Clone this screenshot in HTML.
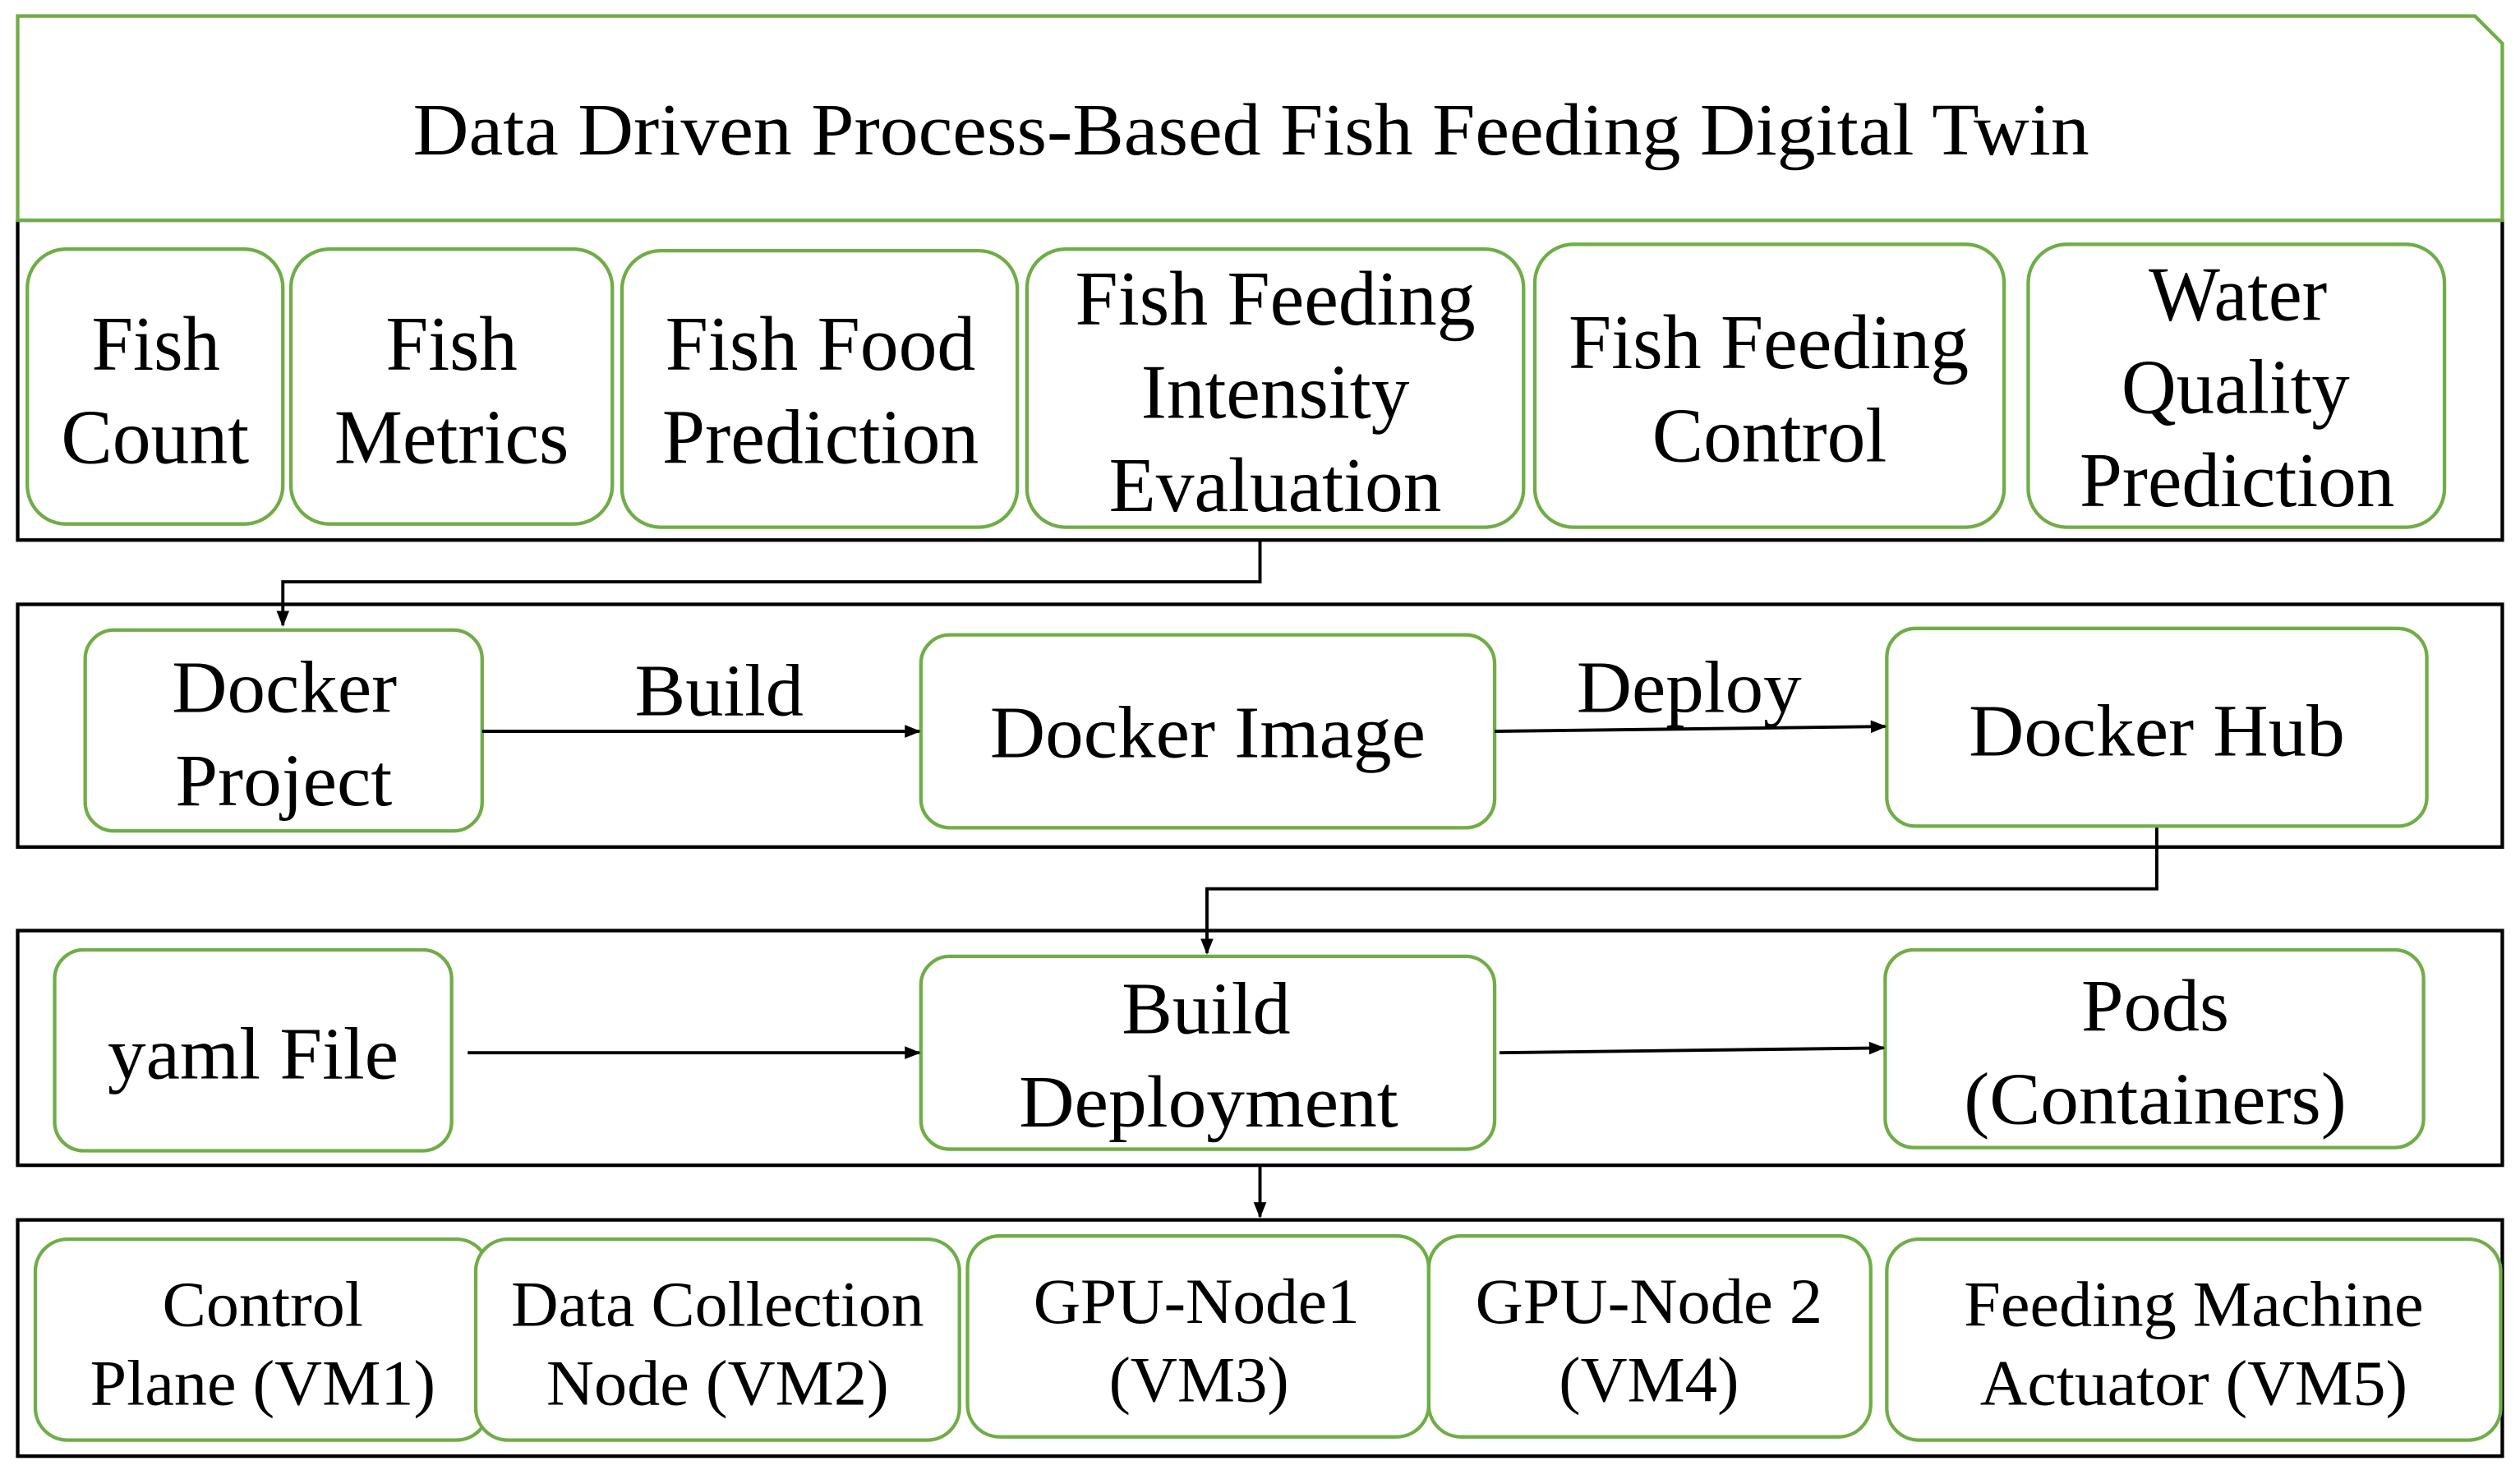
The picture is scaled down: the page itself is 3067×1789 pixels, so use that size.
<!DOCTYPE html>
<html><head><meta charset="utf-8"><style>html,body{margin:0;padding:0;background:#fff}svg{display:block}</style></head>
<body>
<svg width="3067" height="1789" viewBox="0 0 1568 914.6" xmlns="http://www.w3.org/2000/svg">
<defs><marker id="a" markerWidth="10" markerHeight="10" refX="9" refY="5" orient="auto" markerUnits="userSpaceOnUse"><path d="M0,1 L10,5 L0,9 Z" fill="#000"/></marker></defs>
<g fill="none" stroke="#000" stroke-width="2.2">
<rect x="11" y="137" width="1546" height="199"/>
<rect x="11" y="376" width="1546" height="151"/>
<rect x="11" y="579" width="1546" height="146"/>
<rect x="11" y="759" width="1546" height="147"/>
</g>
<g fill="#fff" stroke="#70ad47" stroke-width="2.2">
<path d="M11,10 L1540,10 L1557,27 L1557,137 L11,137 Z"/>
<rect x="17" y="155" width="159" height="171" rx="24"/>
<rect x="181" y="155" width="200" height="171" rx="24"/>
<rect x="387" y="156" width="246" height="172" rx="24"/>
<rect x="639" y="155" width="309" height="173" rx="24"/>
<rect x="955" y="152" width="292" height="176" rx="24"/>
<rect x="1262" y="152" width="259" height="176" rx="24"/>
<rect x="53" y="392" width="247" height="125" rx="18"/>
<rect x="573" y="395" width="357" height="120" rx="18"/>
<rect x="1174" y="391" width="336" height="123" rx="18"/>
<rect x="34" y="591" width="247" height="125" rx="18"/>
<rect x="573" y="595" width="357" height="120" rx="18"/>
<rect x="1173" y="591" width="335" height="123" rx="18"/>
<rect x="22" y="771" width="282" height="125" rx="20"/>
<rect x="296" y="771" width="301" height="125" rx="20"/>
<rect x="602" y="769" width="287" height="125" rx="20"/>
<rect x="889" y="769" width="275" height="125" rx="20"/>
<rect x="1174" y="771" width="382" height="125" rx="20"/>
</g>
<g fill="none" stroke="#000" stroke-width="2">
<path d="M784,336 L784,362 L176,362 L176,389" marker-end="url(#a)"/>
<path d="M300,455 L572,455" marker-end="url(#a)"/>
<path d="M930,455 L1173,452" marker-end="url(#a)"/>
<path d="M1342,515 L1342,553 L751,553 L751,593" marker-end="url(#a)"/>
<path d="M291,655 L572,655" marker-end="url(#a)"/>
<path d="M933,655 L1172,652" marker-end="url(#a)"/>
<path d="M784,725 L784,757" marker-end="url(#a)"/>
</g>
<g font-family="'Liberation Serif',serif" fill="#000" lengthAdjust="spacingAndGlyphs">
<text x="257" y="96" font-size="46" textLength="1043" lengthAdjust="spacingAndGlyphs">Data Driven Process-Based Fish Feeding Digital Twin</text>
<g font-size="48">
<text x="57" y="230" textLength="80" lengthAdjust="spacingAndGlyphs">Fish</text>
<text x="38" y="288" textLength="117" lengthAdjust="spacingAndGlyphs">Count</text>
<text x="240" y="230" textLength="82" lengthAdjust="spacingAndGlyphs">Fish</text>
<text x="208" y="288" textLength="146" lengthAdjust="spacingAndGlyphs">Metrics</text>
<text x="414" y="230" textLength="193" lengthAdjust="spacingAndGlyphs">Fish Food</text>
<text x="412" y="288" textLength="197" lengthAdjust="spacingAndGlyphs">Prediction</text>
<text x="669" y="202" textLength="249" lengthAdjust="spacingAndGlyphs">Fish Feeding</text>
<text x="710" y="260" textLength="167" lengthAdjust="spacingAndGlyphs">Intensity</text>
<text x="690" y="318" textLength="207" lengthAdjust="spacingAndGlyphs">Evaluation</text>
<text x="976" y="229" textLength="249" lengthAdjust="spacingAndGlyphs">Fish Feeding</text>
<text x="1028" y="287" textLength="146" lengthAdjust="spacingAndGlyphs">Control</text>
<text x="1337" y="199" textLength="111" lengthAdjust="spacingAndGlyphs">Water</text>
<text x="1320" y="257" textLength="142" lengthAdjust="spacingAndGlyphs">Quality</text>
<text x="1294" y="315" textLength="196" lengthAdjust="spacingAndGlyphs">Prediction</text>
</g>
<g font-size="46">
<text x="107" y="443" textLength="140" lengthAdjust="spacingAndGlyphs">Docker</text>
<text x="109" y="501" textLength="135" lengthAdjust="spacingAndGlyphs">Project</text>
<text x="616" y="471" textLength="271" lengthAdjust="spacingAndGlyphs">Docker Image</text>
<text x="1225" y="470" textLength="234" lengthAdjust="spacingAndGlyphs">Docker Hub</text>
<text x="395" y="445" textLength="105" lengthAdjust="spacingAndGlyphs">Build</text>
<text x="981" y="443" textLength="140" lengthAdjust="spacingAndGlyphs">Deploy</text>
<text x="67" y="671" textLength="181" lengthAdjust="spacingAndGlyphs">yaml File</text>
<text x="698" y="643" textLength="105" lengthAdjust="spacingAndGlyphs">Build</text>
<text x="634" y="701" textLength="236" lengthAdjust="spacingAndGlyphs">Deployment</text>
<text x="1295" y="641" textLength="92" lengthAdjust="spacingAndGlyphs">Pods</text>
<text x="1222" y="699" textLength="238" lengthAdjust="spacingAndGlyphs">(Containers)</text>
</g>
<g font-size="40">
<text x="101" y="825" textLength="125" lengthAdjust="spacingAndGlyphs">Control</text>
<text x="56" y="874" textLength="215" lengthAdjust="spacingAndGlyphs">Plane (VM1)</text>
<text x="318" y="825" textLength="257" lengthAdjust="spacingAndGlyphs">Data Collection</text>
<text x="340" y="874" textLength="213" lengthAdjust="spacingAndGlyphs">Node (VM2)</text>
<text x="643" y="823" textLength="203" lengthAdjust="spacingAndGlyphs">GPU-Node1</text>
<text x="690" y="872" textLength="112" lengthAdjust="spacingAndGlyphs">(VM3)</text>
<text x="918" y="823" textLength="216" lengthAdjust="spacingAndGlyphs">GPU-Node 2</text>
<text x="970" y="872" textLength="112" lengthAdjust="spacingAndGlyphs">(VM4)</text>
<text x="1222" y="825" textLength="286" lengthAdjust="spacingAndGlyphs">Feeding Machine</text>
<text x="1232" y="874" textLength="266" lengthAdjust="spacingAndGlyphs">Actuator (VM5)</text>
</g>
</g>
</svg>
</body></html>
